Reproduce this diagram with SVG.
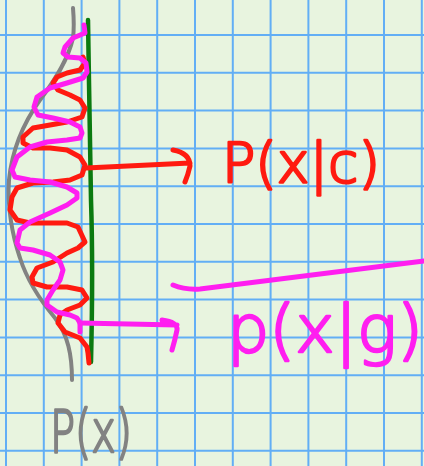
<svg xmlns="http://www.w3.org/2000/svg" width="424" height="466" viewBox="0 0 424 466">
<style>
.grid{stroke:#62aef5;stroke-width:2;fill:none}
.ink{fill:none;stroke-linecap:round;stroke-linejoin:round}
.gray{stroke:#828282;stroke-width:4}
.green{stroke:#0b7a10;stroke-width:4.5}
.red{stroke:#ff1a10;stroke-width:5}
.mag{stroke:#ff1ef0;stroke-width:5}
.lbl{font-family:"DejaVu Sans","Liberation Sans",sans-serif;font-weight:200;stroke-width:2.6;stroke-linejoin:round;stroke-linecap:round}
</style>
<rect width="424" height="466" fill="#e8f4df"/>
<g id="grid" class="grid">
<path d="M6,0V466M43.8,0V466M81.6,0V466M119.4,0V466M157.2,0V466M195,0V466M232.8,0V466M270.6,0V466M308.4,0V466M346.2,0V466M384,0V466M421.8,0V466"/>
<path d="M0,35H424M0,72.8H424M0,110.6H424M0,148.4H424M0,186.2H424M0,224H424M0,261.8H424M0,299.6H424M0,337.4H424M0,375.2H424M0,413H424M0,450.8H424"/>
</g>
<g id="px-curve">
<path class="ink gray" d="M73,8 C74,20 74,30 73,38 C68,60 55,80 40,100 C22,125 12,150 9,180 C7,205 12,235 20,258 C27,280 40,300 55,318 C68,335 72,355 72,380"/>
</g>
<g id="green-line">
<path class="ink green" d="M88,20 C89,80 90,150 91,200 C93,260 92,320 91,362"/>
</g>
<g id="red-curve">
<path class="ink red" d="M83,57 L85,63 L80,70 L67,73 L57,77 L53,83 L58,90 L70,95 L80,100 L85,108 L82,117 L67,122 L50,125 L33,128 L23,137 L23,143 L33,148 L50,148 L67,150 L80,157 L85,165 L82,175 L70,180 L53,182 L33,183 L17,188 L12,197 L10,210 L17,220 L30,223 L50,223 L67,223 L78,227 L85,242 L78,248 L67,253 L53,262 L37,268 L32,277 L33,283 L47,287 L67,287 L82,290 L87,298 L80,305 L67,310 L60,315 L58,323 L65,332 L80,338 L87,347 L88,353 L89,363"/>
</g>
<g id="magenta-curve">
<path class="ink mag" d="M84,25 L85,33 L73,38 L65,47 L63,53 L68,57 L80,58 L86,63 L87,72 L83,78 L67,83 L50,88 L37,97 L34,107 L38,115 L53,118 L70,122 L80,127 L82,133 L80,138 L67,140 L47,142 L30,147 L17,157 L12,170 L15,177 L30,180 L50,182 L67,187 L77,193 L77,198 L67,205 L50,213 L30,222 L20,230 L17,243 L20,248 L33,250 L50,255 L60,262 L63,270 L60,280 L53,290 L47,300 L47,305 L57,312 L70,315 L77,318 L80,323 L80,332"/>
</g>
<g id="connectors">
<path class="ink red" d="M86,168 L190,163 M173,150 Q190,153 190,166 Q188,175 185,182"/>
<path class="ink mag" d="M80,323 L177,325 M162,320 Q178,322 177,330 Q175,340 172,350"/>
</g>
<g id="label-pxc">
<text class="lbl" x="222" y="182" font-size="55" fill="#ff1a10" stroke="#ff1a10" textLength="158" lengthAdjust="spacingAndGlyphs">P(x|c)</text>
</g>
<g id="label-pxg">
<path class="ink mag" d="M173,285 Q185,290 200,289 L424,261"/>
<text class="lbl" x="227" y="352" font-size="66" fill="#ff1ef0" stroke="#ff1ef0" textLength="196" lengthAdjust="spacingAndGlyphs">p(x|g)</text>
</g>
<g id="label-px">
<text class="lbl" x="50" y="452" font-size="58" fill="#828282" stroke="#828282" textLength="82" lengthAdjust="spacingAndGlyphs">P(x)</text>
</g>
</svg>
